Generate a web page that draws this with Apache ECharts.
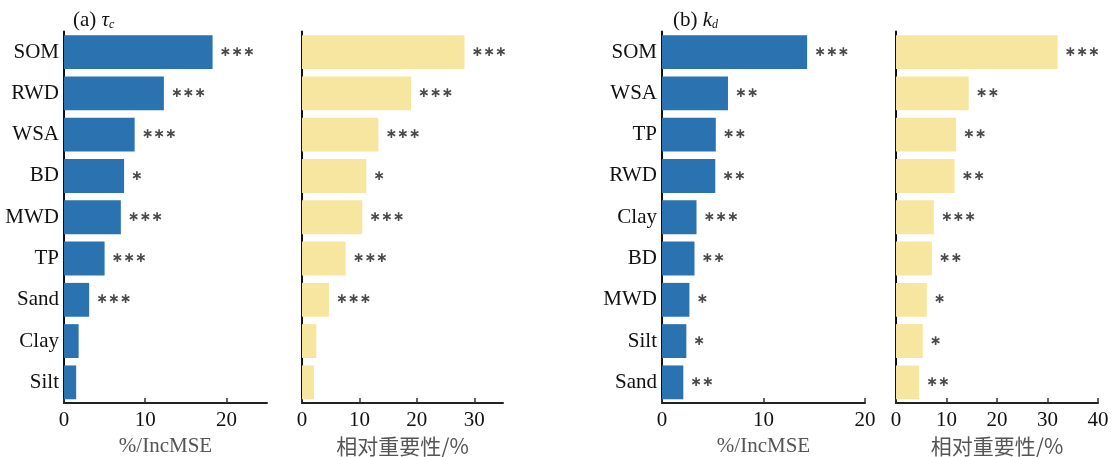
<!DOCTYPE html>
<html><head><meta charset="utf-8">
<script src="https://cdn.jsdelivr.net/npm/echarts@6/dist/echarts.min.js"></script>
<style>html,body{margin:0;padding:0;background:#fff}#c{width:1113px;height:457px}</style>
</head><body><div id="c"></div>
<script>
const catsA = ['SOM','RWD','WSA','BD','MWD','TP','Sand','Clay','Silt'];
const incA = [18.3, 12.3, 8.7, 7.4, 7.0, 5.0, 3.1, 1.8, 1.5];
const relA = [28.3, 19.0, 13.3, 11.2, 10.5, 7.6, 4.7, 2.5, 2.1];
const starsA = ['***','***','***','*','***','***','***','',''];
const catsB = ['SOM','WSA','TP','RWD','Clay','BD','MWD','Silt','Sand'];
const incB = [14.3, 6.5, 5.3, 5.25, 3.4, 3.2, 2.7, 2.4, 2.1];
const relB = [32.0, 14.4, 11.9, 11.6, 7.5, 7.1, 6.1, 5.3, 4.6];
const starsB = ['***','**','**','**','***','**','*','*','**'];
const xMax = [25, 35, 20, 40];
const xNames = ['%/IncMSE', '相对重要性/%', '%/IncMSE', '相对重要性/%'];

const serif = 'Liberation Serif';
const grids = [
  {left:64, width:203},
  {left:302, width:201},
  {left:662, width:203},
  {left:896, width:202}
].map(g => ({left:g.left, width:g.width, top:31.5, height:371.5, outerBoundsMode:'none', containLabel:false}));

const panels = [
  {cats:catsA, vals:incA, stars:starsA, color:'#2a72b0'},
  {cats:catsA, vals:relA, stars:starsA, color:'#f7e6a0'},
  {cats:catsB, vals:incB, stars:starsB, color:'#2a72b0'},
  {cats:catsB, vals:relB, stars:starsB, color:'#f7e6a0'}
];

const titleStyle = {fontFamily:serif, fontSize:21, fontWeight:'normal', color:'#111',
  rich:{i:{fontFamily:serif, fontStyle:'italic', fontSize:21, color:'#111'},
        s:{fontFamily:serif, fontStyle:'italic', fontSize:12, color:'#111', padding:[10,0,0,0]}}};

const option = {
  animation:false,
  backgroundColor:'#fff',
  title:[
    {text:'(a) {i|τ}{s|c}', left:68, top:4, textStyle:titleStyle},
    {text:'(b) {i|k}{s|d}', left:668, top:4, textStyle:titleStyle}
  ],
  grid: grids,
  xAxis: xMax.map((m,i)=>({
    type:'value', gridIndex:i, min:0, max:m, interval:10,
    name:xNames[i], nameLocation:'middle', nameGap:32,
    nameTextStyle:{fontFamily: i%2 ? 'Noto Sans CJK SC' : serif, fontSize:21, color:'#555'},
    axisLine:{show:true, lineStyle:{color:'#222', width:2}},
    axisTick:{show:true, inside:true, length:5, lineStyle:{color:'#333', width:1.5}},
    axisLabel:{fontFamily:serif, fontSize:21, color:'#111', margin:7, showMaxLabel: (m%10===0)},
    splitLine:{show:false}
  })),
  yAxis: panels.map((p,i)=>({
    type:'category', gridIndex:i, data:p.cats, inverse:true,
    axisLine:{show:true, lineStyle:{color:'#111', width:2}},
    axisTick:{show:false},
    axisLabel:{show: i%2===0, fontFamily:serif, fontSize:21, color:'#111', margin:5}
  })),
  series: panels.map((p,i)=>({
    type:'bar', xAxisIndex:i, yAxisIndex:i, data:p.vals, barCategoryGap:'18%',
    itemStyle:{color:p.color},
    label:{show:true, position:'right', distance:7, formatter:(d)=>p.stars[d.dataIndex].replace(/\*/g,'∗'),
      fontFamily:'DejaVu Sans', fontSize:14, fontWeight:'bold', color:'#4a4a4a'}
  }))
};
echarts.init(document.getElementById('c')).setOption(option);
</script></body></html>
